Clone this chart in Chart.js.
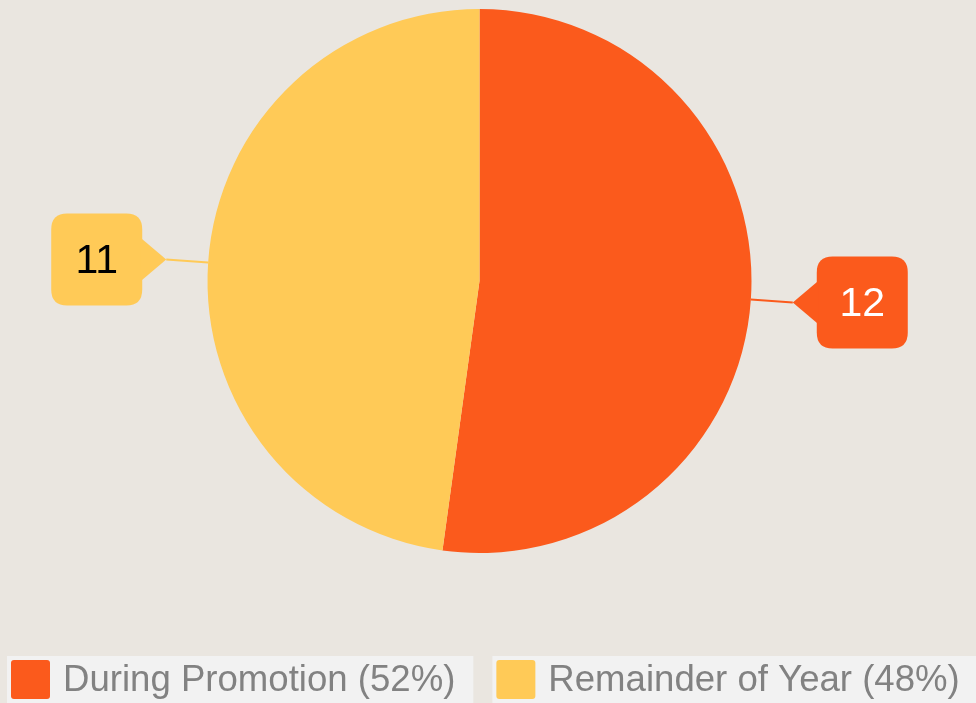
<!DOCTYPE html>
<html>
<head>
<meta charset="utf-8">
<script src="https://cdn.jsdelivr.net/npm/chart.js@4/dist/chart.umd.min.js"></script>
<style>
  html, body { margin: 0; padding: 0; background: #EAE6E0; }
  #wrap { width: 976px; height: 703px; overflow: hidden; }
  canvas { display: block; }
</style>
</head>
<body>
<div id="wrap"><canvas id="c" width="976" height="703"></canvas></div>
<script>
const categories = ["During Promotion", "Remainder of Year"];
const values = [12, 11];
const colors = ["#FB5A1C", "#FFCA57"];
const labelTextColors = ["#FFFFFF", "#000000"];

const total = values.reduce((a, b) => a + b, 0);
const legendLabels = categories.map((c, i) => c + " (" + Math.round(values[i] / total * 100) + "%)");

const FONT = "'Liberation Sans', Arial, sans-serif";

function roundRectPath(ctx, x, y, w, h, r) {
  ctx.moveTo(x + r, y);
  ctx.lineTo(x + w - r, y);
  ctx.quadraticCurveTo(x + w, y, x + w, y + r);
  ctx.lineTo(x + w, y + h - r);
  ctx.quadraticCurveTo(x + w, y + h, x + w - r, y + h);
  ctx.lineTo(x + r, y + h);
  ctx.quadraticCurveTo(x, y + h, x, y + h - r);
  ctx.lineTo(x, y + r);
  ctx.quadraticCurveTo(x, y, x + r, y);
  ctx.closePath();
}

const bgPlugin = {
  id: 'bg',
  beforeDraw(chart) {
    const ctx = chart.ctx;
    ctx.save();
    ctx.fillStyle = '#EAE6E0';
    ctx.fillRect(0, 0, chart.width, chart.height);
    ctx.restore();
  }
};

const calloutPlugin = {
  id: 'callouts',
  afterDraw(chart) {
    const ctx = chart.ctx;
    const meta = chart.getDatasetMeta(0);
    meta.data.forEach((arc, i) => {
      const p = arc.getProps(['x', 'y', 'startAngle', 'endAngle', 'outerRadius'], true);
      const mid = (p.startAngle + p.endAngle) / 2;
      const cos = Math.cos(mid), sin = Math.sin(mid);
      const ex = p.x + cos * p.outerRadius, ey = p.y + sin * p.outerRadius;
      const tx = p.x + cos * (p.outerRadius + 42), ty = p.y + sin * (p.outerRadius + 42);
      const side = cos >= 0 ? 1 : -1;
      const bw = 91, bh = 92, ptr = 24, half = 22, r = 16;
      const nearX = tx + side * ptr;
      const bx = side > 0 ? nearX : nearX - bw;
      const by = ty - bh / 2;
      ctx.save();
      ctx.strokeStyle = colors[i];
      ctx.lineWidth = 2;
      ctx.beginPath();
      ctx.moveTo(ex, ey);
      ctx.lineTo(tx, ty);
      ctx.stroke();
      ctx.fillStyle = colors[i];
      ctx.beginPath();
      roundRectPath(ctx, bx, by, bw, bh, r);
      ctx.fill();
      ctx.beginPath();
      ctx.moveTo(nearX + side * 2, ty - half);
      ctx.lineTo(tx, ty);
      ctx.lineTo(nearX + side * 2, ty + half);
      ctx.closePath();
      ctx.fill();
      ctx.fillStyle = labelTextColors[i];
      ctx.font = "41px " + FONT;
      ctx.textAlign = 'center';
      ctx.textBaseline = 'middle';
      ctx.fillText(String(values[i]), bx + bw / 2, ty + 2);
      ctx.restore();
    });
  }
};

const legendPlugin = {
  id: 'customLegend',
  afterDraw(chart) {
    const ctx = chart.ctx;
    ctx.save();
    ctx.font = "36.6px " + FONT;
    ctx.textBaseline = 'alphabetic';
    ctx.textAlign = 'left';
    let x = 7;
    const top = 656, sw = 39;
    legendLabels.forEach((lab, i) => {
      const tw = ctx.measureText(lab).width;
      const w = 4 + sw + 13 + tw + 18;
      ctx.fillStyle = '#F2F2F2';
      ctx.fillRect(x, top, w, 60);
      ctx.fillStyle = colors[i];
      ctx.beginPath();
      roundRectPath(ctx, x + 4, top + 4, sw, sw, 3);
      ctx.fill();
      ctx.fillStyle = '#828282';
      ctx.fillText(lab, x + 4 + sw + 13, 691);
      x += w + 19;
    });
    ctx.restore();
  }
};

new Chart(document.getElementById('c'), {
  type: 'pie',
  data: {
    labels: categories,
    datasets: [{
      data: values,
      backgroundColor: colors,
      borderWidth: 0
    }]
  },
  options: {
    responsive: false,
    animation: false,
    layout: { padding: { top: 9, bottom: 150, left: 0, right: 17 } },
    plugins: {
      legend: { display: false },
      tooltip: { enabled: false }
    }
  },
  plugins: [bgPlugin, calloutPlugin, legendPlugin]
});
</script>
</body>
</html>
